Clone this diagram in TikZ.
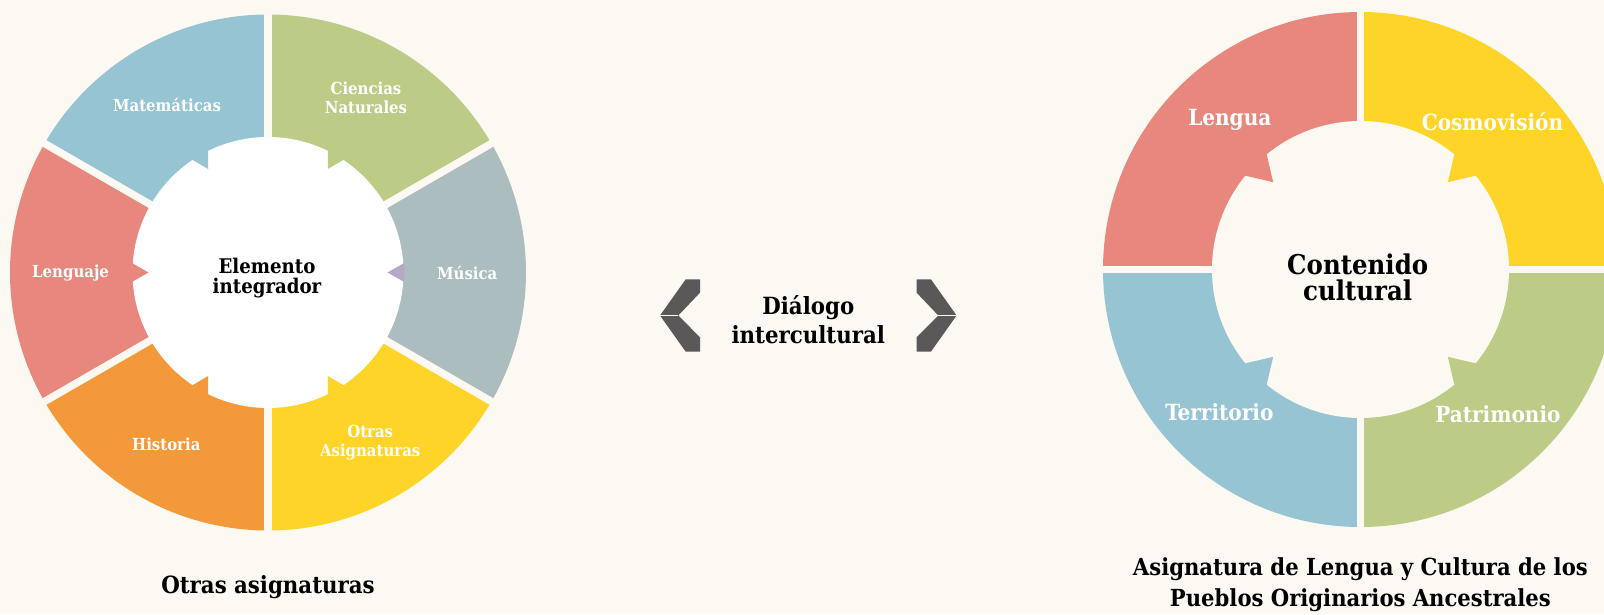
\documentclass[tikz,border=0pt]{standalone}
\usepackage{fontspec}
\setmainfont{DejaVu Serif Condensed}
\definecolor{fondo}{HTML}{FCF9F2}
\definecolor{celeste}{HTML}{96C4D2}
\definecolor{verde}{HTML}{BCCB85}
\definecolor{gris}{HTML}{ABBDBE}
\definecolor{amarillo}{HTML}{FFD428}
\definecolor{naranja}{HTML}{F4993A}
\definecolor{salmon}{HTML}{E8877D}
\definecolor{lila}{HTML}{B8A8C8}
\definecolor{carbon}{HTML}{5B5859}
\begin{document}
\begin{tikzpicture}[x=1pt,y=1pt,
  blanco/.style={text=white,align=center,inner sep=0pt,font=\bfseries\fontsize{16.6}{19.6}\selectfont},
  grande/.style={text=white,align=center,inner sep=0pt,font=\bfseries\fontsize{22.3}{24}\selectfont},
  negro/.style={text=black,align=center,inner sep=0pt,font=\bfseries\fontsize{23.7}{29.5}\selectfont}]
\useasboundingbox (0,0) rectangle (1604,614);
\clip (0,0) rectangle (1604,614);
\fill[fondo] (0,0) rectangle (1604,614);
\begin{scope}[shift={(268,341.5)}]
\foreach \a/\c in {90/celeste,30/verde,-30/gris,-90/amarillo,-150/naranja,150/salmon}
  \fill[\c] (0,0) -- (\a:258) arc (\a:\a+60:258) -- cycle;
\foreach \a in {30,90,...,330}
  \draw[fondo,line width=7.5] (0,0) -- (\a:266);
\fill[white] (0,0) circle (135.5);
\foreach \a/\c in {120/celeste,60/verde,0/lila,-60/amarillo,-120/naranja,180/salmon}
  \fill[\c] (\a-4:136.5) -- (\a:119.5) -- (\a+4:136.5) -- cycle;
\end{scope}
\begin{scope}[shift={(1360.5,344.5)}]
\foreach \a/\c in {90/salmon,0/amarillo,-90/verde,180/celeste}
  \fill[\c] (0,0) -- (\a:257.5) arc (\a:\a+90:257.5) -- cycle;
\foreach \a in {0,90,180,270}
  \draw[fondo,line width=7] (0,0) -- (\a:266);
\fill[fondo] (0,0) circle (148.5);
\foreach \a/\c in {135/salmon,45/amarillo,-45/verde,-135/celeste}
  \fill[\c] (\a-6:149.5) -- (\a:123.5) -- (\a+6:149.5) -- cycle;
\end{scope}
\foreach \s in {1,-1}{
  \begin{scope}[xshift=808.3,xscale=\s]
  \fill[carbon] (-108.3,334.7) -- (-122.6,334.7) -- (-148.3,298.5) -- (-122.6,262.3)
    -- (-108.3,262.3) -- (-108.3,276.7) -- (-130,298.5) -- (-108.3,321.3) -- cycle;
  \draw[fondo,line width=0.8] (-148.3,298.5) -- (-130,298.5);
  \end{scope}
}
\draw
(167,509) node [blanco] (mat) {Matemáticas}
(366,516) node [blanco] (cie) {Ciencias\\Naturales}
(70.6,340.7) node [blanco] (len) {Lenguaje}
(467.3,340.7) node [blanco] (mus) {Música}
(166.3,169.6) node [blanco] (his) {Historia}
(370.2,171.5) node [blanco] (otr) {Otras\\Asignaturas}
(267,336) node [negro,font=\bfseries\fontsize{20.2}{20.5}\selectfont] (ele) {Elemento\\integrador}
(268,26.7) node [negro] (otras) {Otras asignaturas};
\draw
(1229.8,494.4) node [grande] (lga) {Lengua}
(1492.5,492.4) node [grande] (cos) {Cosmovisión}
(1219.3,202.2) node [grande] (ter) {Territorio}
(1497.9,199.5) node [grande] (pat) {Patrimonio}
(1357.7,336.5) node [negro,font=\bfseries\fontsize{27.2}{26.5}\selectfont] (con) {Contenido\\cultural}
(1360.4,29) node [negro,font=\bfseries\fontsize{23.5}{31}\selectfont] (asig) {Asignatura de Lengua y Cultura de los\\Pueblos Originarios Ancestrales};
\draw (808.3,294.5) node [negro] (dia) {Diálogo\\intercultural};
\end{tikzpicture}
\end{document}
